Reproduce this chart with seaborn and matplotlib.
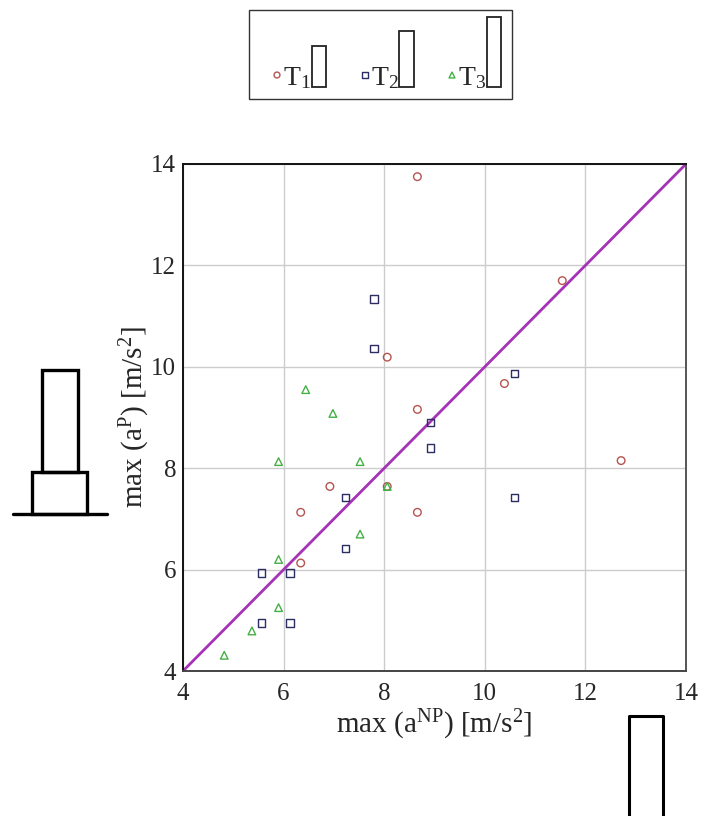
import matplotlib
matplotlib.use("Agg")
import matplotlib.pyplot as plt
import seaborn as sns
import pandas as pd
from matplotlib.patches import Rectangle

# ---- data ----
t1_x = [8.66, 8.06, 8.66, 11.54, 10.39, 6.92, 8.06, 6.34, 8.66, 6.34, 12.71]
t1_y = [13.75, 10.19, 9.16, 11.70, 9.67, 7.64, 7.64, 7.13, 7.13, 6.13, 8.15]
t2_x = [5.56, 6.13, 5.56, 6.13, 7.23, 7.23, 7.80, 7.80, 8.92, 8.92, 10.59, 10.59]
t2_y = [4.95, 4.95, 5.93, 5.93, 6.42, 7.42, 10.36, 11.34, 8.90, 8.40, 9.87, 7.42]
t3_x = [4.82, 5.37, 5.90, 5.90, 5.90, 6.44, 6.98, 7.52, 7.52, 8.06]
t3_y = [4.31, 4.79, 5.25, 6.20, 8.13, 9.55, 9.08, 8.13, 6.70, 7.64]
line_x = [4, 14]
line_y = [4, 14]
ticks = [4, 6, 8, 10, 12, 14]
series_names = ["T1", "T2", "T3"]
legend_labels = [r"$\mathrm{T}_1$", r"$\mathrm{T}_2$", r"$\mathrm{T}_3$"]

sns.set_theme(style="white")
plt.rcParams["font.family"] = ["Liberation Serif", "DejaVu Serif"]
plt.rcParams["mathtext.fontset"] = "custom"
plt.rcParams["mathtext.rm"] = "Liberation Serif"
plt.rcParams["mathtext.it"] = "Liberation Serif:italic"
plt.rcParams["mathtext.bf"] = "Liberation Serif:bold"

colors = {"T1": "#b5544f", "T2": "#2b2d63", "T3": "#45b045"}
markers = {"T1": "o", "T2": "s", "T3": "^"}
sizes = {"T1": 30, "T2": 28, "T3": 30}

W, H = 705, 816
fig = plt.figure(figsize=(W / 100, H / 100), dpi=100)
ax = fig.add_axes([183 / W, 1 - 671 / H, (686 - 183) / W, (671 - 164) / H])

series = {"T1": (t1_x, t1_y), "T2": (t2_x, t2_y), "T3": (t3_x, t3_y)}

ax.grid(True, color="#cccccc", linewidth=1.0)
ax.set_axisbelow(True)

sns.lineplot(x=line_x, y=line_y, ax=ax, color="#a632b8", linewidth=2.0, zorder=2)

for name in series_names:
    xs, ys = series[name]
    df = pd.DataFrame({"x": xs, "y": ys})
    sns.scatterplot(data=df, x="x", y="y", ax=ax, marker=markers[name],
                    s=sizes[name], facecolor="none",
                    edgecolor=colors[name], linewidth=1.0, zorder=3)

ax.set_xlim(4, 14)
ax.set_ylim(4, 14)
ax.set_xticks(ticks)
ax.set_yticks(ticks)
ax.set_xticklabels([str(t) for t in ticks], fontsize=18)
ax.set_yticklabels([str(t) for t in ticks], fontsize=18)
ax.tick_params(axis="x", length=3, width=1, color="#333333", pad=6)
ax.tick_params(axis="y", length=3, width=1, color="#333333", pad=2)
ax.set_xlabel(r"max (a$^{\mathrm{NP}}$) [m/s$^{2}$]", fontsize=21, labelpad=2)
ax.set_ylabel(r"max (a$^{\mathrm{P}}$) [m/s$^{2}$]", fontsize=21, labelpad=-1)
for side, col in [("left", "#111111"), ("top", "#111111"), ("right", "#555555"), ("bottom", "#444444")]:
    ax.spines[side].set_visible(True)
    ax.spines[side].set_color(col)
    ax.spines[side].set_linewidth(1.4)

# ---- overlay for legend box and building sketches (pixel coords) ----
ov = fig.add_axes([0, 0, 1, 1], zorder=5)
ov.set_xlim(0, W)
ov.set_ylim(H, 0)
ov.axis("off")
ov.patch.set_alpha(0)

ov.add_patch(Rectangle((249, 10), 263, 89, fill=False, edgecolor="#333333", linewidth=1.0))
item_x = [277, 365, 452]
rects = [(312, 46, 14, 41), (399, 31, 15, 56), (487, 17, 14, 70)]
for i, name in enumerate(series_names):
    ov.scatter([item_x[i]], [75], marker=markers[name], s=18, facecolor="none",
               edgecolor=colors[name], linewidth=1.0)
    ov.text(item_x[i] + 6, 85, legend_labels[i], fontsize=20, ha="left", va="baseline")
    rx, ry, rw, rh = rects[i]
    ov.add_patch(Rectangle((rx, ry), rw, rh, fill=False, edgecolor="#222222", linewidth=1.3))

# left building sketch
ov.add_patch(Rectangle((42, 370), 36, 102, fill=False, edgecolor="black", linewidth=2.4))
ov.add_patch(Rectangle((32, 472), 55, 42, fill=False, edgecolor="black", linewidth=2.4))
ov.plot([13, 107], [514, 514], color="black", linewidth=2.4)

# bottom-right sketch
ov.plot([629, 629, 663, 663], [820, 716, 716, 820], color="black", linewidth=2.2)

fig.savefig("out.png", dpi=100, facecolor="white")
